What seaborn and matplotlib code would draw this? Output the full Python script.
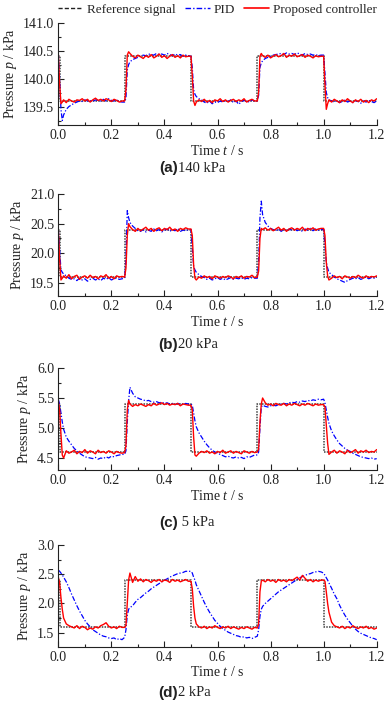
import numpy as np
import pandas as pd
import matplotlib
matplotlib.use("Agg")
import matplotlib.pyplot as plt
from matplotlib.lines import Line2D
from matplotlib.ticker import AutoMinorLocator, FormatStrFormatter, MultipleLocator
import seaborn as sns

# sample times shared by the measured curves (s)
t_grid = [0, 0.005, 0.01, 0.015, 0.02, 0.03, 0.04, 0.05, 0.06, 0.07, 0.08, 0.09, 0.10, 0.11,
          0.12, 0.13, 0.14, 0.15, 0.16, 0.17, 0.18, 0.19, 0.20, 0.21, 0.22, 0.23, 0.24,
          0.25, 0.255, 0.26, 0.265, 0.27, 0.28, 0.29, 0.30, 0.31, 0.32, 0.33, 0.34, 0.35, 0.36,
          0.37, 0.38, 0.39, 0.40, 0.41, 0.42, 0.43, 0.44, 0.45, 0.46, 0.47, 0.48, 0.49,
          0.50, 0.505, 0.51, 0.515, 0.52, 0.53, 0.54, 0.55, 0.56, 0.57, 0.58, 0.59, 0.60, 0.61,
          0.62, 0.63, 0.64, 0.65, 0.66, 0.67, 0.68, 0.69, 0.70, 0.71, 0.72, 0.73, 0.74,
          0.75, 0.755, 0.76, 0.765, 0.77, 0.78, 0.79, 0.80, 0.81, 0.82, 0.83, 0.84, 0.85, 0.86,
          0.87, 0.88, 0.89, 0.90, 0.91, 0.92, 0.93, 0.94, 0.95, 0.96, 0.97, 0.98, 0.99,
          1.00, 1.005, 1.01, 1.015, 1.02, 1.03, 1.04, 1.05, 1.06, 1.07, 1.08, 1.09, 1.10, 1.11,
          1.12, 1.13, 1.14, 1.15, 1.16, 1.17, 1.18, 1.19, 1.20]

# reference square wave (step values)
ref_t = [0, 0.005, 0.25, 0.5, 0.75, 1.0, 1.2]
ref_a = [140.4, 139.6, 140.4, 139.6, 140.4, 139.6, 139.6]
ref_b = [20.4, 19.6, 20.4, 19.6, 20.4, 19.6, 19.6]
ref_c = [5.4, 4.6, 5.4, 4.6, 5.4, 4.6, 4.6]
ref_d = [2.4, 1.6, 2.4, 1.6, 2.4, 1.6, 1.6]

# (a) 140 kPa
pid_a = [140.45, 140.0, 139.45, 139.25,
         139.35, 139.45, 139.50, 139.53, 139.56, 139.58, 139.60, 139.59, 139.62, 139.60, 139.61, 139.59,
         139.62, 139.61, 139.60, 139.63, 139.60, 139.64, 139.61, 139.60, 139.62, 139.59, 139.58,
         139.58, 139.65, 140.15, 140.25,
         140.30, 140.34, 140.36, 140.38, 140.40, 140.42, 140.41, 140.44, 140.43, 140.42, 140.45, 140.43,
         140.44, 140.42, 140.45, 140.43, 140.41, 140.44, 140.42, 140.43, 140.40, 140.42, 140.41,
         140.40, 140.20, 139.80, 139.72,
         139.68, 139.64, 139.62, 139.58, 139.56, 139.60, 139.55, 139.58, 139.57, 139.60, 139.58, 139.61,
         139.59, 139.62, 139.57, 139.60, 139.54, 139.59, 139.61, 139.60, 139.58, 139.62, 139.60,
         139.60, 139.70, 140.20, 140.28,
         140.32, 140.36, 140.38, 140.40, 140.42, 140.43, 140.44, 140.45, 140.43, 140.46, 140.44, 140.45,
         140.43, 140.46, 140.44, 140.42, 140.45, 140.43, 140.44, 140.42, 140.43, 140.41, 140.42,
         140.42, 140.10, 139.75, 139.66,
         139.62, 139.60, 139.58, 139.61, 139.57, 139.59, 139.62, 139.58, 139.60, 139.57, 139.61, 139.59,
         139.56, 139.60, 139.58, 139.61, 139.59, 139.57, 139.60]
prop_a = [140.45, 139.90, 139.55, 139.58,
          139.62, 139.57, 139.63, 139.60, 139.58, 139.62, 139.61, 139.64, 139.60, 139.63, 139.58, 139.62,
          139.65, 139.61, 139.63, 139.60, 139.64, 139.62, 139.59, 139.63, 139.61, 139.58, 139.60,
          139.60, 139.80, 140.42, 140.48,
          140.45, 140.40, 140.37, 140.42, 140.39, 140.36, 140.41, 140.38, 140.43, 140.37, 140.40, 140.44,
          140.38, 140.41, 140.36, 140.40, 140.43, 140.38, 140.41, 140.37, 140.42, 140.39, 140.40,
          140.40, 140.05, 139.60, 139.52,
          139.58, 139.62, 139.59, 139.63, 139.58, 139.61, 139.57, 139.62, 139.60, 139.64, 139.59, 139.62,
          139.58, 139.61, 139.63, 139.59, 139.62, 139.60, 139.64, 139.58, 139.61, 139.63, 139.60,
          139.60, 139.75, 140.40, 140.45,
          140.41, 140.38, 140.42, 140.37, 140.40, 140.43, 140.39, 140.41, 140.45, 140.38, 140.42, 140.40,
          140.44, 140.39, 140.41, 140.43, 140.38, 140.42, 140.40, 140.37, 140.41, 140.39, 140.40,
          140.40, 139.90, 139.45, 139.55,
          139.62, 139.58, 139.63, 139.60, 139.57, 139.62, 139.59, 139.64, 139.60, 139.57, 139.62, 139.59,
          139.63, 139.58, 139.61, 139.57, 139.62, 139.60, 139.64]

# (b) 20 kPa
pid_b = [20.40, 20.05, 19.72, 19.68,
         19.65, 19.62, 19.58, 19.56, 19.57, 19.54, 19.58, 19.55, 19.57, 19.53, 19.56, 19.58,
         19.55, 19.57, 19.54, 19.58, 19.56, 19.59, 19.55, 19.57, 19.58, 19.56, 19.57,
         19.58, 19.90, 20.72, 20.60,
         20.52, 20.46, 20.42, 20.38, 20.37, 20.40, 20.36, 20.39, 20.37, 20.41, 20.38, 20.40,
         20.36, 20.39, 20.41, 20.37, 20.40, 20.38, 20.42, 20.37, 20.39, 20.38, 20.40,
         20.40, 20.10, 19.78, 19.72,
         19.68, 19.64, 19.61, 19.59, 19.56, 19.58, 19.55, 19.57, 19.59, 19.56, 19.58, 19.55,
         19.57, 19.59, 19.56, 19.58, 19.57, 19.59, 19.56, 19.58, 19.57, 19.59, 19.58,
         19.58, 19.85, 20.60, 20.88,
         20.65, 20.52, 20.46, 20.42, 20.40, 20.38, 20.41, 20.37, 20.40, 20.38, 20.41, 20.39,
         20.42, 20.38, 20.40, 20.37, 20.41, 20.39, 20.42, 20.38, 20.41, 20.39, 20.40,
         20.40, 20.15, 19.85, 19.75,
         19.68, 19.64, 19.60, 19.57, 19.55, 19.53, 19.51, 19.54, 19.56, 19.58, 19.57, 19.59,
         19.56, 19.58, 19.60, 19.57, 19.59, 19.58, 19.60]
prop_b = [20.40, 19.90, 19.55, 19.58,
          19.62, 19.58, 19.64, 19.57, 19.61, 19.63, 19.56, 19.60, 19.62, 19.58, 19.63, 19.59,
          19.61, 19.57, 19.62, 19.60, 19.64, 19.58, 19.61, 19.57, 19.62, 19.60, 19.61,
          19.60, 19.75, 20.30, 20.50,
          20.45, 20.40, 20.37, 20.42, 20.38, 20.41, 20.44, 20.39, 20.42, 20.37, 20.41, 20.43,
          20.38, 20.42, 20.40, 20.44, 20.39, 20.41, 20.37, 20.42, 20.40, 20.43, 20.41,
          20.41, 20.30, 19.80, 19.58,
          19.55, 19.60, 19.58, 19.62, 19.59, 19.61, 19.57, 19.62, 19.60, 19.58, 19.61, 19.59,
          19.62, 19.60, 19.57, 19.61, 19.59, 19.62, 19.58, 19.61, 19.60, 19.63, 19.59,
          19.60, 19.70, 20.25, 20.42,
          20.40, 20.43, 20.39, 20.42, 20.38, 20.41, 20.44, 20.39, 20.42, 20.37, 20.41, 20.43,
          20.39, 20.42, 20.40, 20.44, 20.38, 20.42, 20.40, 20.43, 20.39, 20.41, 20.42,
          20.42, 20.30, 19.85, 19.62,
          19.55, 19.58, 19.62, 19.59, 19.61, 19.57, 19.62, 19.60, 19.58, 19.61, 19.59, 19.63,
          19.60, 19.58, 19.62, 19.59, 19.61, 19.60, 19.62]

# (c) 5 kPa
pid_c = [5.48, 5.40, 5.25, 5.10,
         4.98, 4.85, 4.78, 4.72, 4.66, 4.62, 4.58, 4.55, 4.52, 4.51, 4.50, 4.49,
         4.51, 4.48, 4.50, 4.49, 4.52, 4.50, 4.53, 4.52, 4.54, 4.55, 4.56,
         4.56, 4.62, 5.10, 5.45,
         5.68, 5.58, 5.52, 5.50, 5.48, 5.47, 5.45, 5.46, 5.44, 5.43, 5.44, 5.42,
         5.43, 5.41, 5.42, 5.40, 5.41, 5.39, 5.41, 5.40, 5.39, 5.41, 5.40,
         5.40, 5.38, 5.25, 5.12,
         5.02, 4.92, 4.85, 4.78, 4.72, 4.67, 4.63, 4.60, 4.58, 4.56, 4.54, 4.52,
         4.53, 4.51, 4.50, 4.52, 4.50, 4.51, 4.49, 4.52, 4.51, 4.53, 4.55,
         4.55, 4.60, 5.00, 5.35,
         5.38, 5.36, 5.35, 5.37, 5.38, 5.37, 5.39, 5.40, 5.41, 5.40, 5.42, 5.43,
         5.42, 5.44, 5.43, 5.45, 5.44, 5.46, 5.45, 5.47, 5.46, 5.48, 5.47,
         5.48, 5.42, 5.30, 5.18,
         5.08, 4.95, 4.87, 4.80, 4.74, 4.70, 4.66, 4.63, 4.61, 4.58, 4.56, 4.54,
         4.52, 4.51, 4.50, 4.49, 4.50, 4.48, 4.49]
prop_c = [5.45, 5.30, 4.90, 4.55,
          4.50, 4.62, 4.58, 4.60, 4.63, 4.57, 4.61, 4.59, 4.64, 4.58, 4.62, 4.60,
          4.57, 4.63, 4.59, 4.61, 4.58, 4.62, 4.60, 4.57, 4.61, 4.59, 4.58,
          4.59, 4.70, 5.30, 5.46,
          5.40, 5.36, 5.39, 5.37, 5.40, 5.38, 5.36, 5.39, 5.37, 5.41, 5.38, 5.40,
          5.42, 5.39, 5.41, 5.38, 5.40, 5.39, 5.41, 5.37, 5.40, 5.39, 5.38,
          5.38, 5.30, 4.85, 4.55,
          4.53, 4.58, 4.61, 4.59, 4.62, 4.58, 4.60, 4.57, 4.61, 4.59, 4.63, 4.58,
          4.60, 4.62, 4.58, 4.61, 4.59, 4.57, 4.62, 4.60, 4.58, 4.61, 4.59,
          4.60, 4.65, 5.10, 5.40,
          5.50, 5.42, 5.38, 5.40, 5.37, 5.41, 5.39, 5.38, 5.41, 5.37, 5.40, 5.38,
          5.41, 5.39, 5.37, 5.40, 5.38, 5.41, 5.39, 5.37, 5.40, 5.38, 5.39,
          5.39, 5.35, 5.05, 4.75,
          4.56, 4.60, 4.63, 4.58, 4.62, 4.60, 4.57, 4.63, 4.59, 4.61, 4.64, 4.58,
          4.62, 4.60, 4.63, 4.59, 4.61, 4.60, 4.64]

# (d) 2 kPa
pid_d = [2.57, 2.55, 2.52, 2.49,
         2.45, 2.37, 2.27, 2.16, 2.06, 1.96, 1.87, 1.79, 1.71, 1.65, 1.60, 1.55,
         1.52, 1.49, 1.46, 1.44, 1.43, 1.41, 1.40, 1.41, 1.38, 1.40, 1.38,
         1.42, 1.55, 1.80, 1.90,
         1.93, 1.96, 2.02, 2.07, 2.10, 2.14, 2.18, 2.21, 2.25, 2.28, 2.31, 2.34,
         2.37, 2.40, 2.42, 2.45, 2.47, 2.49, 2.51, 2.52, 2.53, 2.55, 2.55,
         2.55, 2.52, 2.45, 2.40,
         2.32, 2.22, 2.12, 2.02, 1.93, 1.85, 1.78, 1.71, 1.66, 1.61, 1.57, 1.54,
         1.51, 1.49, 1.47, 1.45, 1.44, 1.42, 1.43, 1.41, 1.42, 1.40, 1.42,
         1.44, 1.55, 1.78, 1.90,
         1.95, 2.00, 2.04, 2.08, 2.12, 2.16, 2.20, 2.23, 2.26, 2.29, 2.32, 2.35,
         2.38, 2.41, 2.44, 2.46, 2.48, 2.50, 2.51, 2.53, 2.54, 2.55, 2.54,
         2.52, 2.48, 2.44, 2.40,
         2.35, 2.26, 2.16, 2.08, 1.97, 1.88, 1.80, 1.73, 1.67, 1.61, 1.56, 1.52,
         1.49, 1.47, 1.45, 1.43, 1.41, 1.40, 1.38]
prop_d = [2.45, 2.35, 2.10, 1.90,
          1.75, 1.65, 1.62, 1.60, 1.58, 1.62, 1.57, 1.61, 1.59, 1.55, 1.58, 1.56,
          1.60, 1.58, 1.62, 1.64, 1.67, 1.61, 1.58, 1.60, 1.57, 1.61, 1.59,
          1.59, 1.62, 2.00, 2.40,
          2.52, 2.36, 2.46, 2.38, 2.42, 2.37, 2.41, 2.39, 2.36, 2.40, 2.38, 2.41,
          2.37, 2.40, 2.39, 2.36, 2.41, 2.38, 2.40, 2.37, 2.39, 2.41, 2.38,
          2.38, 2.25, 1.95, 1.75,
          1.65, 1.60, 1.58, 1.61, 1.57, 1.60, 1.58, 1.62, 1.59, 1.57, 1.60, 1.58,
          1.61, 1.57, 1.60, 1.58, 1.56, 1.59, 1.57, 1.60, 1.58, 1.56, 1.59,
          1.58, 1.65, 2.20, 2.38,
          2.40, 2.37, 2.41, 2.38, 2.40, 2.36, 2.41, 2.38, 2.40, 2.37, 2.41, 2.39,
          2.42, 2.45, 2.40, 2.48, 2.43, 2.38, 2.41, 2.37, 2.40, 2.38, 2.40,
          2.40, 2.38, 2.20, 2.00,
          1.85, 1.68, 1.62, 1.60, 1.58, 1.61, 1.57, 1.60, 1.58, 1.62, 1.59, 1.57,
          1.60, 1.58, 1.61, 1.57, 1.59, 1.56, 1.58]

panels = [
    ("(a)", "140 kPa", ref_a, pid_a, prop_a, (139.17, 141.0)),
    ("(b)", "20 kPa", ref_b, pid_b, prop_b, (19.28, 21.0)),
    ("(c)", " 5 kPa", ref_c, pid_c, prop_c, (4.3, 6.0)),
    ("(d)", "2 kPa", ref_d, pid_d, prop_d, (1.26, 3.0)),
]

sns.set_style("ticks")
plt.rcParams["font.family"] = ["Liberation Serif", "DejaVu Serif"]
plt.rcParams["mathtext.fontset"] = "custom"
plt.rcParams["mathtext.rm"] = "Liberation Serif"
plt.rcParams["mathtext.it"] = "Liberation Serif:italic"
plt.rcParams["font.size"] = 10

W, H = 387, 703
fig = plt.figure(figsize=(W / 100, H / 100), dpi=100)

left, width = 58.3 / W, 318.4 / W
# top and bottom pixel rows of each axes
rows = [(22.7, 125.0), (194.0, 296.0), (368.0, 470.0), (545.0, 646.7)]
caption_y = [168, 345, 523, 693]

for (tag, cap, ref, pid, prop, ylim), (top, bot), cy in zip(panels, rows, caption_y):
    ax = fig.add_axes([left, 1 - bot / H, width, (bot - top) / H])
    sns.lineplot(x=ref_t, y=ref, ax=ax, color="#444444", lw=1.1, linestyle=(0, (1, 0.8)),
                 drawstyle="steps-post", estimator=None)
    sns.lineplot(x=t_grid, y=pid, ax=ax, color="#0000ff", lw=0.9, linestyle=(0, (4, 1.5, 1, 1.5)),
                 estimator=None, sort=False)
    sns.lineplot(x=t_grid, y=prop, ax=ax, color="#ff0000", lw=1.0, estimator=None, sort=False)

    ax.set_xlim(0, 1.2)
    ax.set_ylim(*ylim)
    ax.xaxis.set_major_locator(MultipleLocator(0.2))
    ax.xaxis.set_minor_locator(AutoMinorLocator(2))
    ax.yaxis.set_major_locator(MultipleLocator(0.5))
    ax.yaxis.set_minor_locator(AutoMinorLocator(2))
    ax.xaxis.set_major_formatter(FormatStrFormatter("%.1f"))
    ax.yaxis.set_major_formatter(FormatStrFormatter("%.1f"))
    ax.tick_params(which="both", direction="in", width=0.8, colors="#222222", labelsize=10,
                   labelcolor="#222222")
    ax.tick_params(which="major", length=4, pad=3)
    ax.tick_params(which="minor", length=2.5)
    sns.despine(ax=ax)
    for s in ("left", "bottom"):
        ax.spines[s].set_linewidth(0.8)
        ax.spines[s].set_color("#222222")
    ax.set_xlabel("Time $t$ / s", fontsize=10, labelpad=1, color="#222222")
    ax.set_ylabel("Pressure $p$ / kPa", fontsize=10, labelpad=3, color="#222222")

    fig.text(178 / W, 1 - cy / H, tag, ha="right", va="center", fontsize=11,
             fontweight="bold", family="Liberation Sans", color="#222222")
    fig.text(178 / W, 1 - cy / H, cap, ha="left", va="center", fontsize=10.5, color="#222222")

handles = [
    Line2D([], [], color="#222222", lw=1.0, linestyle=(0, (3, 1.5))),
    Line2D([], [], color="#0000ff", lw=1.0, linestyle=(0, (4, 1.5, 1, 1.5))),
    Line2D([], [], color="#ff0000", lw=1.2),
]
fig.legend(handles, ["Reference signal", "PID", "Proposed controller"],
           loc="upper center", bbox_to_anchor=(left + width / 2, 1.0), ncol=3,
           frameon=False, fontsize=9.5, handlelength=1.9, handletextpad=0.3,
           columnspacing=0.7, borderaxespad=0.15, borderpad=0.1)

fig.savefig("out.png", dpi=100)
